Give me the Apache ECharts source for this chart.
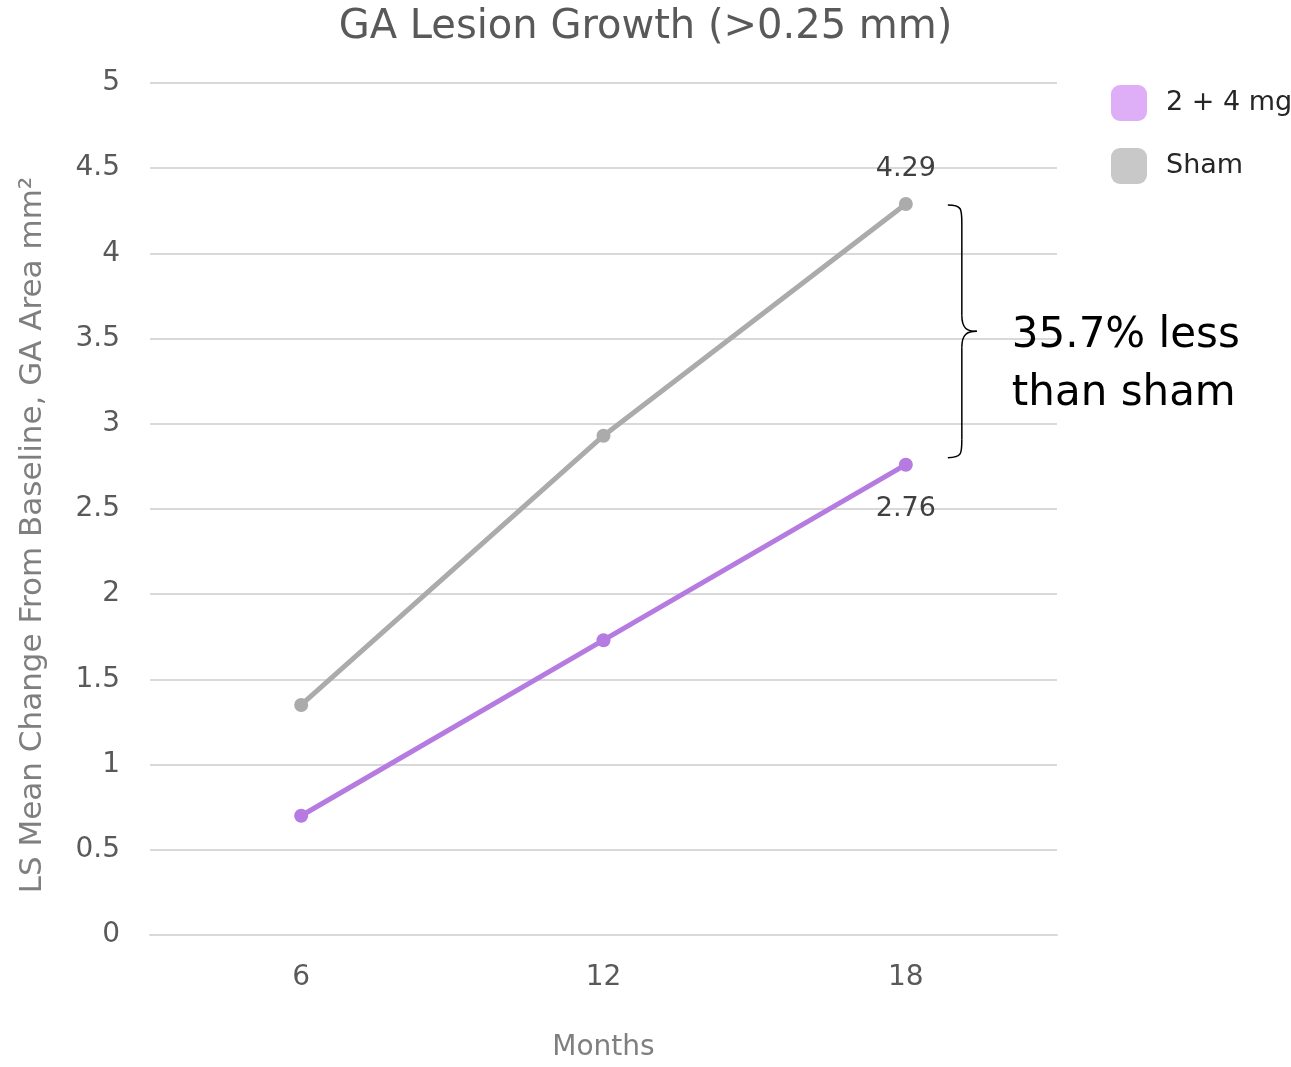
<!DOCTYPE html>
<html>
<head>
<meta charset="utf-8">
<script src="https://cdn.jsdelivr.net/npm/echarts@6/dist/echarts.min.js"></script>
<style>
  html, body { margin: 0; padding: 0; background: #fff; }
  #chart { width: 1291px; height: 1067px; }
</style>
</head>
<body>
<div id="chart"></div>
<script>
// GA lesion growth, LS mean change from baseline (mm²)
const months = ['6', '12', '18'];
const doseValues = [0.70, 1.73, 2.76];   // 2 + 4 mg
const shamValues = [1.35, 2.93, 4.29];   // Sham
const yTicks = [0, 0.5, 1, 1.5, 2, 2.5, 3, 3.5, 4, 4.5, 5];
const yTitle = 'LS Mean Change From Baseline, GA Area mm²';
const noteLines = ['35.7% less', 'than sham'];

const FONT = '"DejaVu Sans", sans-serif';
const chart = echarts.init(document.getElementById('chart'), null, { renderer: 'canvas' });

function lastLabel(position, distance) {
  return {
    show: true,
    position: position,
    distance: distance,
    fontFamily: FONT,
    fontSize: 27,
    color: '#404040',
    formatter: p => (p.dataIndex === months.length - 1 ? p.value.toFixed(2) : '')
  };
}

chart.setOption({
  animation: false,
  textStyle: { fontFamily: FONT },
  title: {
    text: 'GA Lesion Growth (>0.25 mm)',
    left: 'center',
    top: 3,
    textStyle: { fontFamily: FONT, fontSize: 40, fontWeight: 'normal', color: '#595959' }
  },
  legend: {
    orient: 'vertical',
    left: 1106,
    top: 80,
    itemWidth: 36,
    itemHeight: 36,
    itemGap: 27,
    icon: 'roundRect',
    textStyle: { fontFamily: FONT, fontSize: 27, color: '#262626', padding: [0, 0, 0, 14] },
    data: [
      { name: '2 + 4 mg', itemStyle: { color: '#deaef7' } },
      { name: 'Sham', itemStyle: { color: '#c8c8c8' } }
    ]
  },
  grid: { left: 150, right: 234, top: 83, bottom: 123, containLabel: false },
  xAxis: {
    type: 'category',
    data: months,
    boundaryGap: true,
    name: 'Months',
    nameLocation: 'middle',
    nameGap: 99,
    nameTextStyle: { fontFamily: FONT, fontSize: 28, color: '#7f7f7f' },
    axisLine: { show: true, lineStyle: { color: '#d9d9d9', width: 2 } },
    axisTick: { show: false },
    axisLabel: { fontFamily: FONT, fontSize: 28, color: '#595959', margin: 29 }
  },
  yAxis: {
    type: 'value',
    min: yTicks[0],
    max: yTicks[yTicks.length - 1],
    interval: 0.5,
    axisLine: { show: false },
    axisTick: { show: false },
    axisLabel: { fontFamily: FONT, fontSize: 28, color: '#595959', margin: 30 },
    splitLine: { lineStyle: { color: '#d9d9d9', width: 2 } }
  },
  series: [
    {
      name: '2 + 4 mg',
      type: 'line',
      data: doseValues,
      symbol: 'circle',
      symbolSize: 14,
      itemStyle: { color: '#b57be0' },
      lineStyle: { color: '#b57be0', width: 5 },
      label: lastLabel('bottom', 24)
    },
    {
      name: 'Sham',
      type: 'line',
      data: shamValues,
      symbol: 'circle',
      symbolSize: 14,
      itemStyle: { color: '#ababab' },
      lineStyle: { color: '#ababab', width: 5 },
      label: lastLabel('top', 14)
    }
  ]
});

// Rotated y-axis title, brace between the final points, and the note beside it
function drawExtras() {
  const last = months.length - 1;
  const top = chart.convertToPixel({ seriesIndex: 1 }, [last, shamValues[last]]);
  const bot = chart.convertToPixel({ seriesIndex: 0 }, [last, doseValues[last]]);
  const x0 = top[0] + 42;
  const y0 = top[1] + 1;
  const y1 = bot[1] - 7;
  const xm = x0 + 14;
  const xt = x0 + 29;
  const ym = (y0 + y1) / 2;
  const stroke = { fill: null, stroke: '#000', lineWidth: 1.5 };
  const curve = (x1, y1_, cx1, cy1, cx2, cy2, x2, y2) => ({
    type: 'bezierCurve',
    shape: { x1: x1, y1: y1_, cpx1: cx1, cpy1: cy1, cpx2: cx2, cpy2: cy2, x2: x2, y2: y2 },
    style: stroke
  });
  const seg = (x1, y1_, x2, y2) => ({
    type: 'line',
    shape: { x1: x1, y1: y1_, x2: x2, y2: y2 },
    style: stroke
  });
  const plotMid = (chart.convertToPixel({ yAxisIndex: 0 }, yTicks[0]) +
                   chart.convertToPixel({ yAxisIndex: 0 }, yTicks[yTicks.length - 1])) / 2;
  chart.setOption({
    graphic: [
      {
        type: 'text',
        x: 33,
        y: plotMid + 26,
        rotation: Math.PI / 2,
        style: {
          text: yTitle,
          font: '31px ' + FONT,
          fill: '#7f7f7f',
          align: 'center',
          verticalAlign: 'middle'
        }
      },
      curve(x0, y0, xm, y0, xm, y0 + 4, xm, y0 + 18),
      seg(xm, y0 + 18, xm, ym - 16),
      curve(xm, ym - 16, xm, ym - 3, xm + 5, ym, xt, ym),
      curve(xt, ym, xm + 5, ym, xm, ym + 3, xm, ym + 16),
      seg(xm, ym + 16, xm, y1 - 18),
      curve(xm, y1 - 18, xm, y1 - 4, xm, y1, x0, y1),
      {
        type: 'text',
        x: xt + 35,
        y: ym - 24,
        style: {
          text: noteLines.join('\n'),
          font: '42px ' + FONT,
          lineHeight: 58,
          fill: '#000'
        }
      }
    ]
  });
}
drawExtras();
</script>
</body>
</html>
